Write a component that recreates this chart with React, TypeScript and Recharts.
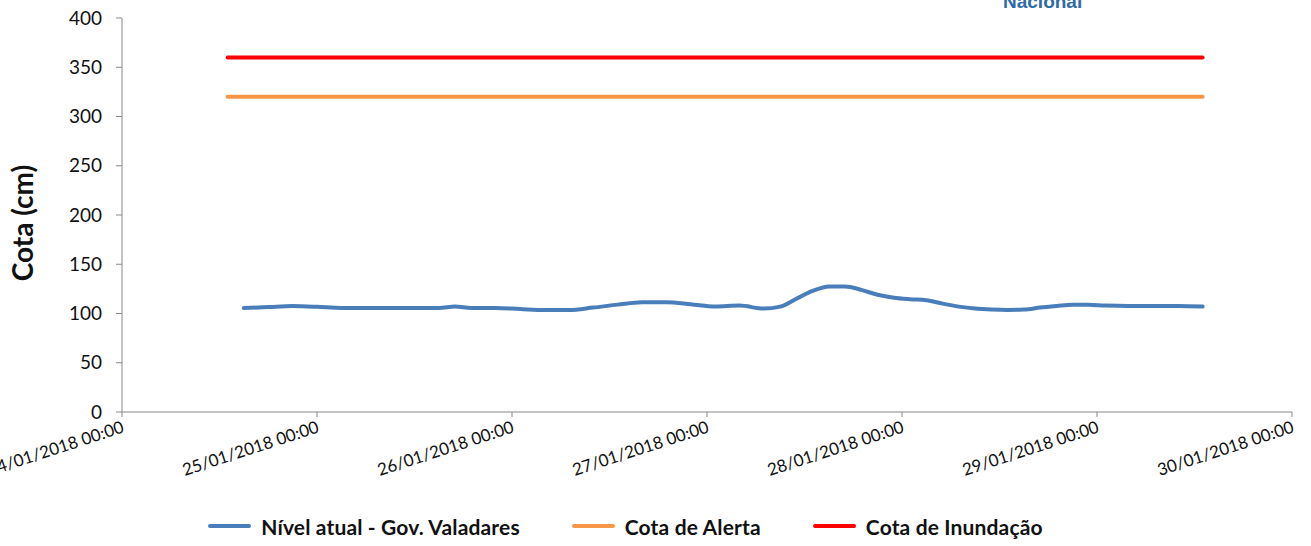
import { LineChart, Line, XAxis, YAxis, Legend } from 'recharts';

// hours since 24/01/2018 00:00
const dayTicks = [0, 24, 48, 72, 96, 120, 144];
const dayLabels = [
  '24/01/2018 00:00',
  '25/01/2018 00:00',
  '26/01/2018 00:00',
  '27/01/2018 00:00',
  '28/01/2018 00:00',
  '29/01/2018 00:00',
  '30/01/2018 00:00',
];
const cotaTicks = [0, 50, 100, 150, 200, 250, 300, 350, 400];

const nivelHours = [
  15, 18, 21, 24, 27, 30, 33, 36, 39, 41, 43, 46, 49, 52, 55, 58, 61, 64, 67, 70, 73, 76, 79, 81,
  83, 85, 87, 89, 91, 93, 95, 97, 99, 101, 103, 105, 107, 109, 111, 113, 115, 117, 119, 121, 124,
  127, 130, 133,
];
const nivelCm = [
  105.5, 106.5, 107.5, 106.8, 105.6, 105.6, 105.6, 105.6, 105.6, 107, 105.6, 105.6, 104.5, 103.5,
  103.5, 106, 109, 111.5, 111.5, 109.5, 107, 108, 105, 107, 115, 123, 127.5, 127.5, 124, 119, 116,
  114.5, 113.5, 110, 107, 105, 104, 103.6, 104, 106, 107.6, 109, 109, 108, 107.6, 107.6, 107.6, 107,
];

const cotaHours = [13, 133];
const alertaCm = [320, 320];
const inundacaoCm = [360, 360];

const seriesNames = ['Nível atual - Gov. Valadares', 'Cota de Alerta', 'Cota de Inundação'];
const seriesColors = ['#4a7ebb', '#f79646', '#ff0000'];

const nivelData = nivelHours.map((h, i) => ({ h, v: nivelCm[i] }));
const alertaData = cotaHours.map((h, i) => ({ h, v: alertaCm[i] }));
const inundacaoData = cotaHours.map((h, i) => ({ h, v: inundacaoCm[i] }));

const axisColor = '#898989';
const font = 'Lato, "Open Sans", sans-serif';

function DateTick(props: any) {
  const { x, y, payload } = props;
  const label = dayLabels[dayTicks.indexOf(payload.value)];
  return (
    <g transform={`translate(${x + 3},${y + 13}) rotate(-18)`}>
      <text x={0} y={0} textAnchor="end" fontFamily={font} fontSize={17} fill="#111">
        {label}
      </text>
    </g>
  );
}

function CotaLabel() {
  return (
    <text
      transform="translate(33,223) rotate(-90)"
      textAnchor="middle"
      fontFamily={font}
      fontSize={28}
      fontWeight={700}
      fill="#111"
    >
      Cota (cm)
    </text>
  );
}

function LegendContent() {
  return (
    <div
      style={{
        display: 'flex',
        justifyContent: 'center',
        alignItems: 'center',
        height: 30,
        fontFamily: font,
        fontWeight: 700,
        fontSize: 21,
        letterSpacing: 0.15,
        color: '#111',
      }}
    >
      {seriesNames.map((name, i) => (
        <span key={name} style={{ display: 'flex', alignItems: 'center', margin: '0 26px' }}>
          <span
            style={{
              display: 'inline-block',
              width: 43,
              height: 4,
              borderRadius: 2,
              background: seriesColors[i],
              marginRight: 10,
            }}
          />
          {name}
        </span>
      ))}
    </div>
  );
}

export default function App() {
  return (
    <div style={{ position: 'absolute', left: 0, top: 0, width: 1311, height: 546, background: '#fff', overflow: 'hidden' }}>
      <div
        style={{
          position: 'absolute',
          left: 1003,
          top: -9,
          fontFamily: 'Arial, sans-serif',
          fontWeight: 700,
          fontSize: 19,
          color: '#2f6aa8',
        }}
      >
        Nacional
      </div>
      <LineChart width={1311} height={546} margin={{ top: 18, right: 19, left: 0, bottom: 5 }}>
        <XAxis
          dataKey="h"
          type="number"
          domain={[0, 144]}
          ticks={dayTicks}
          interval={0}
          stroke={axisColor}
          tickSize={5}
          height={99}
          tick={<DateTick />}
        />
        <YAxis
          type="number"
          domain={[0, 400]}
          ticks={cotaTicks}
          interval={0}
          width={122}
          stroke={axisColor}
          tickSize={6}
          tickMargin={14}
          tick={{ fontFamily: font, fontSize: 19, fill: '#111' }}
          label={<CotaLabel />}
        />
        <Legend
          verticalAlign="bottom"
          height={30}
          wrapperStyle={{ left: 0, width: 1251 }}
          content={<LegendContent />}
        />
        <Line
          data={nivelData}
          dataKey="v"
          name={seriesNames[0]}
          type="monotone"
          stroke={seriesColors[0]}
          strokeWidth={4}
          strokeLinecap="round"
          dot={false}
          activeDot={false}
          isAnimationActive={false}
        />
        <Line
          data={alertaData}
          dataKey="v"
          name={seriesNames[1]}
          type="linear"
          stroke={seriesColors[1]}
          strokeWidth={4}
          strokeLinecap="round"
          dot={false}
          activeDot={false}
          isAnimationActive={false}
        />
        <Line
          data={inundacaoData}
          dataKey="v"
          name={seriesNames[2]}
          type="linear"
          stroke={seriesColors[2]}
          strokeWidth={4}
          strokeLinecap="round"
          dot={false}
          activeDot={false}
          isAnimationActive={false}
        />
      </LineChart>
    </div>
  );
}
